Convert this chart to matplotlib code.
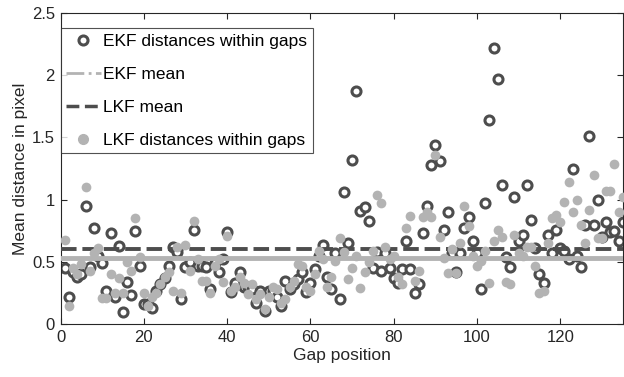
import matplotlib
matplotlib.use("Agg")
import matplotlib.pyplot as plt
from matplotlib.lines import Line2D
import numpy as np

plt.rcParams['font.family'] = ['Liberation Sans', 'DejaVu Sans']

gap_position = list(range(1, 136))

ekf_dist = [
    0.45, 0.22, 0.42, 0.38, 0.40, 0.95, 0.46, 0.77, 0.55, 0.49,
    0.27, 0.73, 0.22, 0.63, 0.10, 0.34, 0.235, 0.75, 0.465, 0.16,
    0.16, 0.13, 0.27, 0.32, 0.37, 0.465, 0.62, 0.58, 0.20, 0.46,
    0.50, 0.76, 0.47, 0.47, 0.46, 0.28, 0.49, 0.42, 0.52, 0.74,
    0.26, 0.33, 0.42, 0.30, 0.30, 0.28, 0.17, 0.27, 0.11, 0.27,
    0.27, 0.22, 0.145, 0.35, 0.28, 0.32, 0.36, 0.42, 0.26, 0.33,
    0.44, 0.55, 0.64, 0.38, 0.28, 0.57, 0.20, 1.06, 0.65, 1.32,
    1.87, 0.91, 0.94, 0.83, 0.45, 0.58, 0.43, 0.57, 0.45, 0.37,
    0.33, 0.44, 0.67, 0.44, 0.25, 0.32, 0.73, 0.95, 1.28, 1.44,
    1.31, 0.76, 0.90, 0.57, 0.42, 0.57, 0.77, 0.86, 0.67, 0.57,
    0.28, 0.97, 1.64, 2.22, 1.97, 1.12, 0.54, 0.46, 1.02, 0.67,
    0.72, 1.12, 0.84, 0.61, 0.40, 0.33, 0.72, 0.57, 0.76, 0.61,
    0.59, 0.52, 1.25, 0.55, 0.46, 0.80, 1.51, 0.80, 1.00, 0.70,
    0.82, 0.74, 0.75, 0.67, 0.82,
]

lkf_dist = [
    0.68, 0.15, 0.45, 0.40, 0.48, 1.10, 0.43, 0.57, 0.61, 0.21,
    0.21, 0.40, 0.25, 0.37, 0.25, 0.50, 0.43, 0.85, 0.54, 0.25,
    0.15, 0.22, 0.25, 0.32, 0.38, 0.42, 0.27, 0.62, 0.25, 0.64,
    0.43, 0.83, 0.52, 0.35, 0.35, 0.25, 0.47, 0.52, 0.34, 0.71,
    0.27, 0.30, 0.38, 0.33, 0.24, 0.32, 0.20, 0.24, 0.12, 0.22,
    0.30, 0.28, 0.17, 0.20, 0.30, 0.35, 0.48, 0.47, 0.30, 0.27,
    0.40, 0.59, 0.52, 0.30, 0.38, 0.51, 0.69, 0.58, 0.36, 0.45,
    0.55, 0.29, 0.42, 0.50, 0.59, 1.04, 0.97, 0.62, 0.52, 0.55,
    0.38, 0.32, 0.77, 0.87, 0.35, 0.43, 0.86, 0.90, 0.86, 1.36,
    0.70, 0.53, 0.41, 0.60, 0.41, 0.65, 0.95, 0.79, 0.55, 0.47,
    0.51, 0.59, 0.33, 0.67, 0.76, 0.70, 0.34, 0.32, 0.72, 0.57,
    0.55, 0.62, 0.62, 0.47, 0.25, 0.27, 0.65, 0.85, 0.88, 0.82,
    0.98, 1.14, 0.90, 1.00, 0.80, 0.65, 0.92, 1.20, 0.69, 0.69,
    1.07, 1.07, 1.29, 0.90, 1.02,
]

ekf_mean = 0.535
lkf_mean = 0.60

x_ticks = [0, 20, 40, 60, 80, 100, 120]
y_ticks = [0, 0.5, 1, 1.5, 2, 2.5]
y_tick_labels = ["0", "0.5", "1", "1.5", "2", "2.5"]

dark = "#4d4d4d"
light = "#b3b3b3"

fig = plt.figure(figsize=(6.24, 3.77), dpi=100)
ax = fig.add_axes([0.097, 0.140, 0.901, 0.826])

ax.plot(gap_position, ekf_dist, linestyle='none', marker='o', markersize=6.5,
        markerfacecolor='white', markeredgecolor=dark, markeredgewidth=2.2,
        zorder=2)
ax.axhline(ekf_mean, color=light, lw=3.5, zorder=3)
ax.axhline(lkf_mean, color=dark, lw=2.8, linestyle=(0, (4, 1.5)), zorder=3)
ax.plot(gap_position, lkf_dist, linestyle='none', marker='o', markersize=7,
        markerfacecolor=light, markeredgecolor=light, markeredgewidth=0,
        zorder=4)

ax.set_xlim(0, 135)
ax.set_ylim(0, 2.5)
ax.set_xticks(x_ticks)
ax.set_yticks(y_ticks)
ax.set_yticklabels(y_tick_labels)
ax.tick_params(direction='in', top=True, right=True, labelsize=12,
               colors='#262626', length=4, width=0.8, pad=4)
for s in ax.spines.values():
    s.set_color('#262626')
    s.set_linewidth(0.8)
ax.set_xlabel("Gap position", fontsize=12.5, color='#262626', labelpad=2)
ax.set_ylabel("Mean distance in pixel", fontsize=12.5, color='#262626', labelpad=3)

handles = [
    Line2D([], [], linestyle='none', marker='o', markersize=6.5,
           markerfacecolor='white', markeredgecolor=dark, markeredgewidth=2.2),
    Line2D([], [], color=light, lw=2, linestyle='-.'),
    Line2D([], [], color=dark, lw=2.5, linestyle='--'),
    Line2D([], [], linestyle='none', marker='o', markersize=7,
           markerfacecolor=light, markeredgecolor=light),
]
labels = ["EKF distances within gaps", "EKF mean", "LKF mean",
          "LKF distances within gaps"]
leg = ax.legend(handles, labels, loc='upper left', bbox_to_anchor=(0, 0.95),
                fontsize=12.5, frameon=True, fancybox=False, edgecolor='#262626',
                borderaxespad=0, handlelength=2.0, handletextpad=0.15,
                labelspacing=1.02, borderpad=0.32)
leg.get_frame().set_linewidth(0.8)
leg.set_zorder(10)

fig.savefig("out.png", dpi=100)
